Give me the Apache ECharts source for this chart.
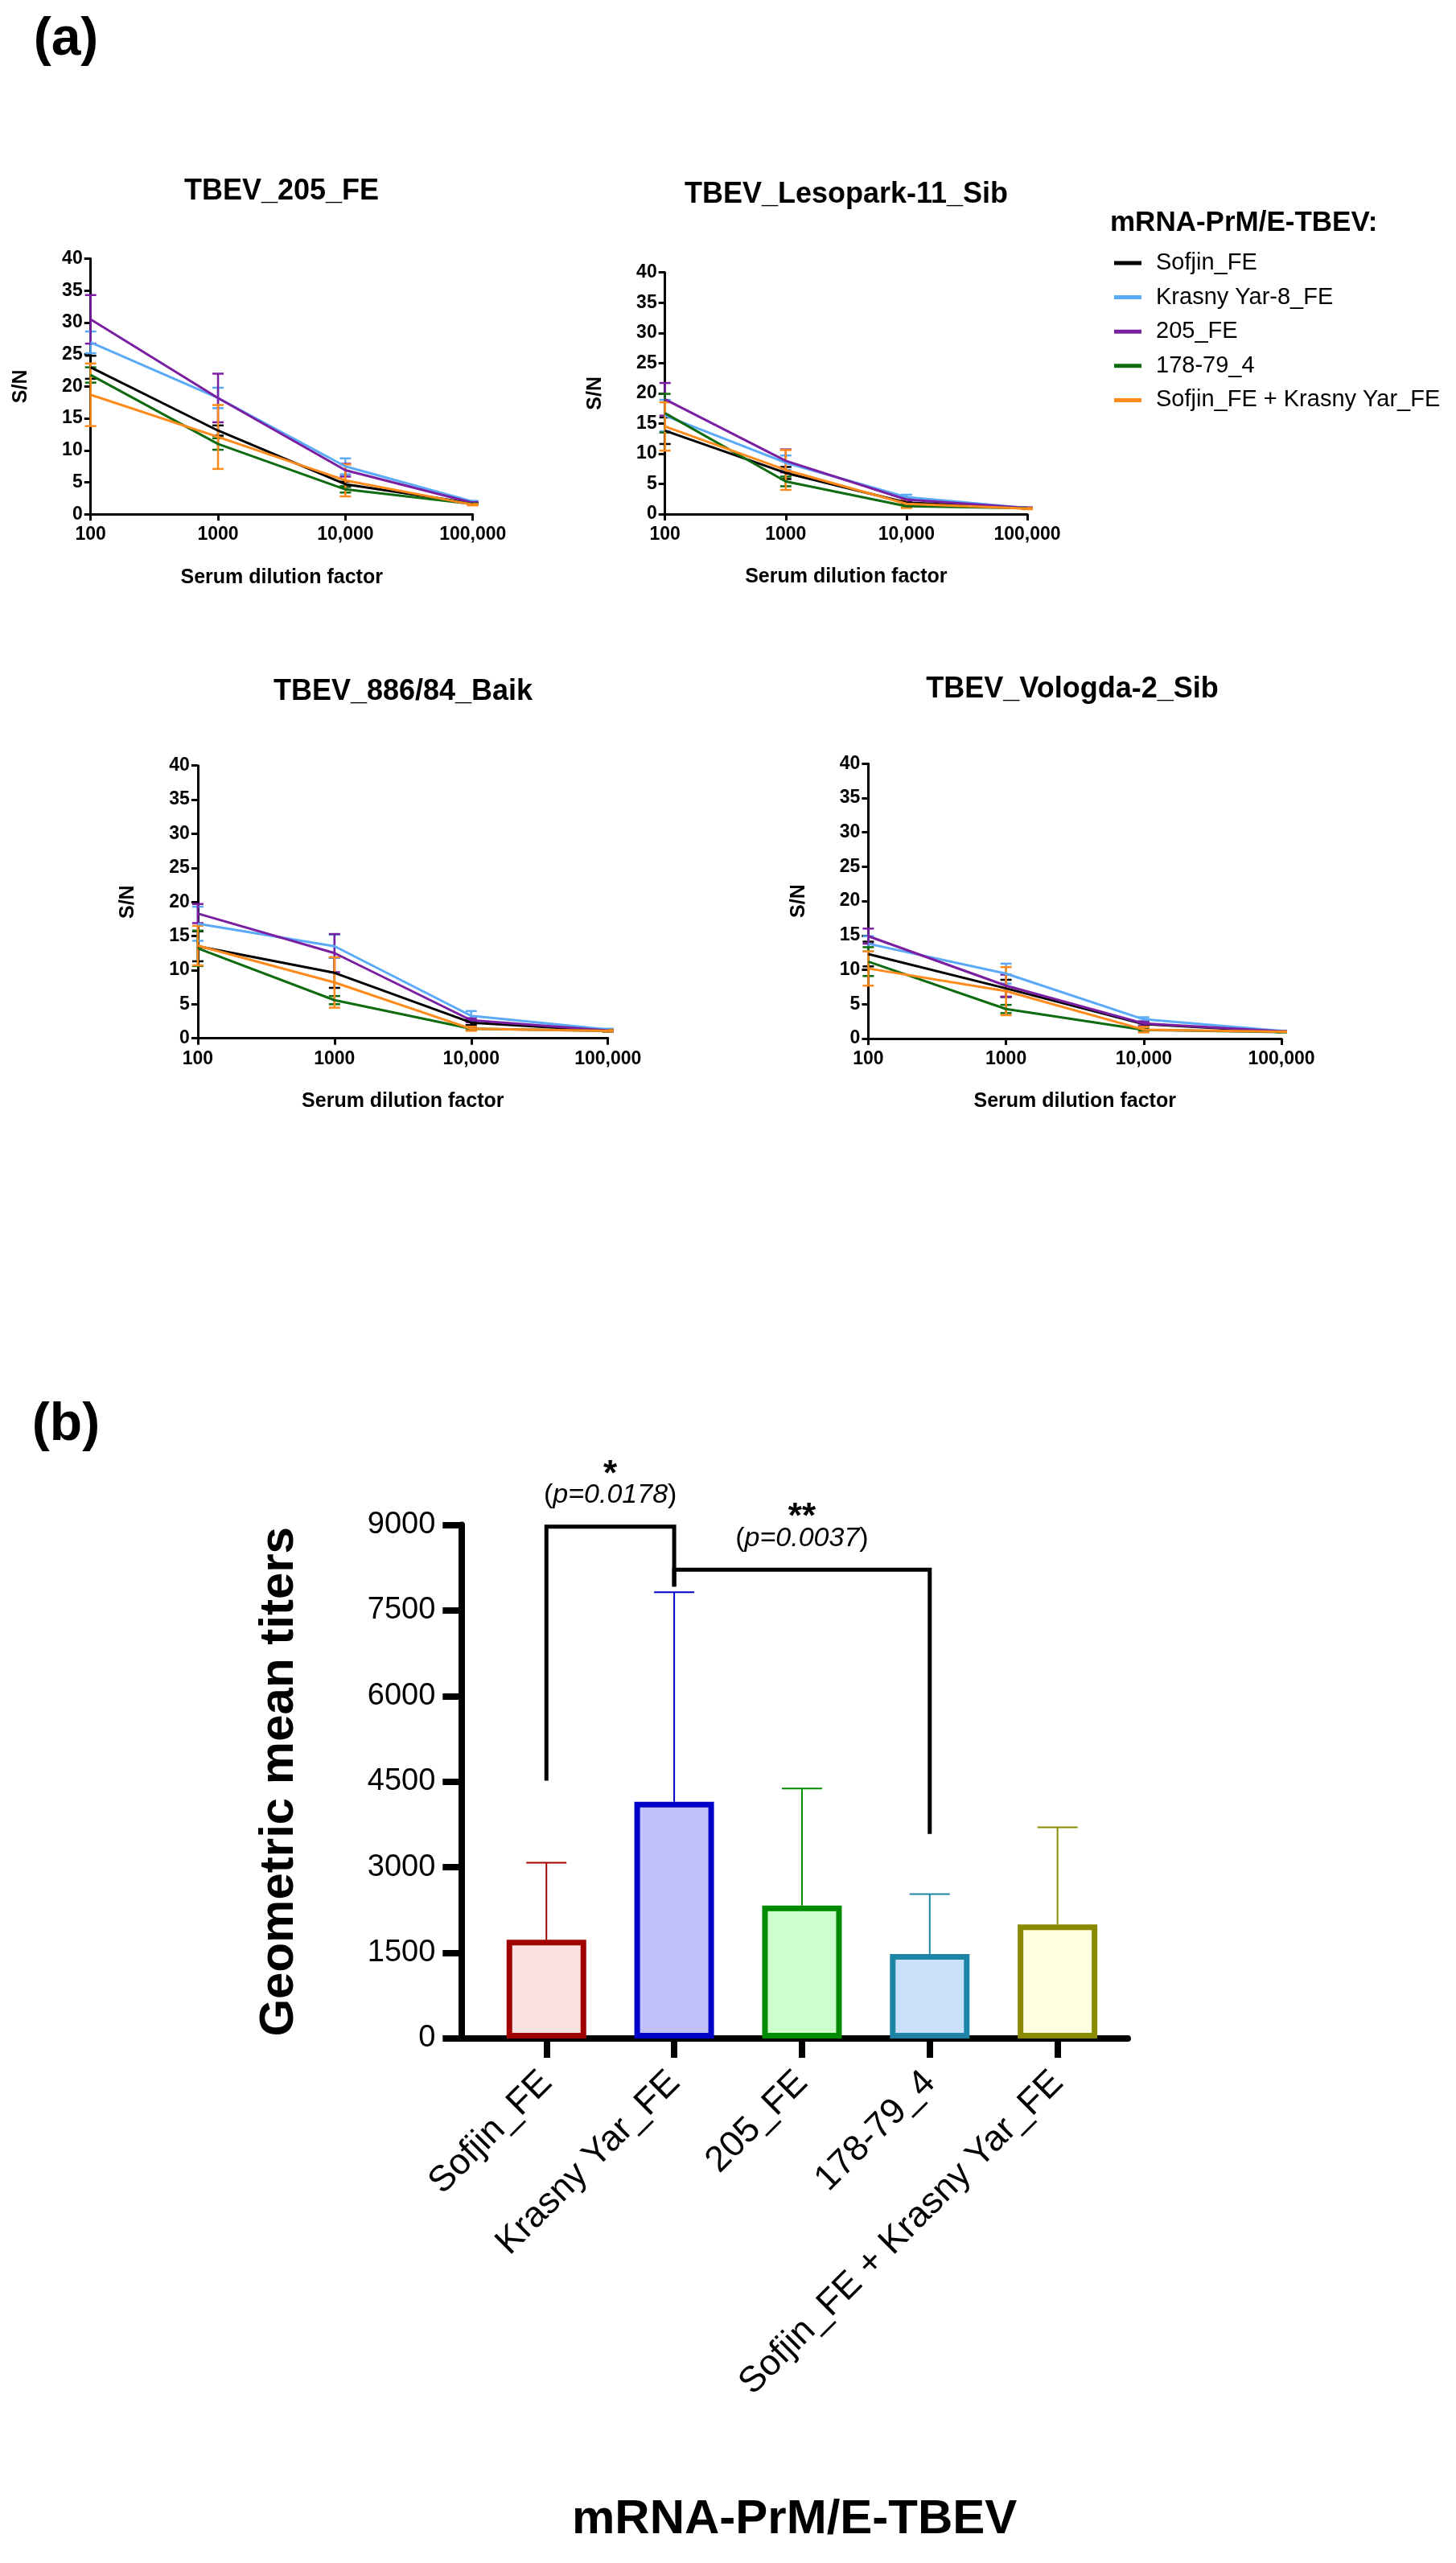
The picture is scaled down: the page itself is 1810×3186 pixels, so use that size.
<!DOCTYPE html>
<html>
<head>
<meta charset="utf-8">
<script src="https://cdn.jsdelivr.net/npm/echarts@6/dist/echarts.min.js"></script>
<style>
html,body{margin:0;padding:0;background:#fff;}
#c{width:1810px;height:3186px;}
</style>
</head>
<body>
<div id="c"></div>
<script>
// ---------------- DATA ----------------
const dilution = [100, 1000, 10000, 100000];
const groupNames = ['Sofjin_FE', 'Krasny Yar-8_FE', '205_FE', '178-79_4', 'Sofjin_FE + Krasny Yar_FE'];
const panelTitles = ['TBEV_205_FE', 'TBEV_Lesopark-11_Sib', 'TBEV_886/84_Baik', 'TBEV_Vologda-2_Sib'];

// S/N means (rows follow groupNames) and SD (error bar half length)
const p205Mean = [[23.0, 13.1, 4.7, 1.7], [26.9, 18.2, 7.5, 2.0], [30.5, 18.2, 6.9, 1.8], [21.8, 11.0, 3.9, 1.6], [18.7, 12.1, 5.3, 1.5]];
const p205SD   = [[1.8, 0.8, 0.4, 0.1], [1.7, 1.6, 1.25, 0.1], [3.8, 3.8, 1.0, 0.1], [1.2, 0.9, 0.5, 0.1], [4.9, 5.0, 2.5, 0.1]];
const pLesMean = [[13.8, 6.8, 1.9, 1.0], [16.3, 8.5, 2.8, 1.0], [19.0, 8.8, 2.4, 1.0], [16.7, 5.4, 1.3, 0.95], [14.5, 7.3, 1.7, 0.9]];
const pLesSD   = [[2.2, 1.0, 0.3, 0.05], [2.6, 1.2, 0.4, 0.05], [2.7, 1.9, 0.3, 0.1], [3.2, 0.8, 0.2, 0.05], [4.0, 3.3, 0.7, 0.1]];
const pBaiMean = [[13.5, 9.6, 2.3, 1.1], [16.8, 13.5, 3.3, 1.3], [18.3, 12.5, 2.65, 1.15], [13.2, 5.6, 1.4, 1.1], [13.6, 8.2, 1.4, 1.1]];
const pBaiSD   = [[2.2, 2.2, 0.35, 0.1], [2.5, 1.7, 0.7, 0.1], [1.4, 2.8, 0.3, 0.1], [2.6, 0.6, 0.2, 0.1], [2.9, 3.7, 0.3, 0.1]];
const pVolMean = [[12.3, 7.3, 2.1, 1.0], [13.8, 9.45, 2.8, 1.1], [14.9, 7.7, 2.2, 1.05], [11.2, 4.3, 1.25, 0.95], [10.2, 6.9, 1.3, 1.0]];
const pVolSD   = [[1.8, 1.25, 0.3, 0.05], [1.1, 1.45, 0.3, 0.05], [1.1, 1.6, 0.3, 0.05], [2.1, 0.6, 0.2, 0.05], [2.5, 3.5, 0.4, 0.05]];

// Bar chart (b)
const barCats = ['Sofjin_FE', 'Krasny Yar_FE', '205_FE', '178-79_4', 'Sofjin_FE + Krasny Yar_FE'];
const barGMT  = [1730, 4150, 2330, 1480, 2000];
const barSD   = [1350, 3670, 2050, 1050, 1700];
const yTicksB = [0, 1500, 3000, 4500, 6000, 7500, 9000];

// Significance brackets (category index from/to, bracket top, leg ends)
const sigFrom   = [0, 1];
const sigTo     = [1, 3];
const sigTop    = [8970, 8215];
const sigLeftEnd  = [4520, 7920];
const sigRightEnd = [7920, 3585];
const sigStars  = ['*', '**'];
const sigP      = ['0.0178', '0.0037'];

// ---------------- STYLE ----------------
const FONT = 'Arial, "Liberation Sans", Helvetica, sans-serif';
const groupColors = ['#000000', '#5aaaf8', '#7b1fa2', '#0f6b0f', '#ff8a1c'];
const barBorder = ['#a00000', '#0000c8', '#008a00', '#1d84a6', '#8a8a00'];
const barFill   = ['#fde0e2', '#c0c0fa', '#ccffcc', '#c8e0fa', '#fffee0'];

const panelMeans = [p205Mean, pLesMean, pBaiMean, pVolMean];
const panelSDs = [p205SD, pLesSD, pBaiSD, pVolSD];

const grids = [
  {left: 112.7, top: 321.5, width: 475, height: 317.8},
  {left: 826.7, top: 338.7, width: 450.3, height: 300.3},
  {left: 245.9, top: 951.7, width: 509.8, height: 339},
  {left: 1079.4, top: 949.3, width: 513.6, height: 341.7},
  {left: 573.3, top: 1895.6, width: 828.7, height: 638.4}
];
const titlePos = [[350, 238], [1052, 242], [501, 860], [1333, 857]];

const fmtDil = v => (v >= 10000 ? Number(v).toLocaleString('en-US') : String(v));

const xAxes = [], yAxes = [], series = [];
for (let p = 0; p < 4; p++) {
  xAxes.push({
    type: 'log', logBase: 10, gridIndex: p, min: 100, max: 100000,
    axisLine: {onZero: false, lineStyle: {color: '#000', width: 3}},
    axisTick: {length: 8, lineStyle: {color: '#000', width: 3}},
    axisLabel: {formatter: fmtDil, fontSize: 23, fontWeight: 'bold', color: '#000', margin: 14, fontFamily: FONT},
    splitLine: {show: false}, minorTick: {show: false},
    name: 'Serum dilution factor', nameLocation: 'middle', nameGap: 66,
    nameTextStyle: {fontSize: 25, fontWeight: 'bold', color: '#000', fontFamily: FONT}
  });
  yAxes.push({
    type: 'value', gridIndex: p, min: 0, max: 40, interval: 5,
    axisLine: {show: true, onZero: false, lineStyle: {color: '#000', width: 3}},
    axisTick: {show: true, length: 8, lineStyle: {color: '#000', width: 3}},
    axisLabel: {fontSize: 23, fontWeight: 'bold', color: '#000', margin: 10, fontFamily: FONT},
    splitLine: {show: false},
    name: 'S/N', nameLocation: 'middle', nameGap: 74,
    nameTextStyle: {fontSize: 25, fontWeight: 'bold', color: '#000', fontFamily: FONT}
  });
  for (let g = 0; g < groupNames.length; g++) {
    const col = groupColors[g];
    const means = panelMeans[p][g], sds = panelSDs[p][g];
    series.push({
      type: 'custom', name: groupNames[g], xAxisIndex: p, yAxisIndex: p, z: 3, silent: true,
      data: dilution.map((d, i) => [d, means[i], sds[i]]),
      itemStyle: {color: col},
      renderItem: function (params, api) {
        const x = api.value(0), m = api.value(1), s = api.value(2);
        const t = api.coord([x, m + s]), b = api.coord([x, Math.max(0, m - s)]);
        const st = {stroke: col, lineWidth: 2.5};
        return {type: 'group', children: [
          {type: 'line', shape: {x1: t[0], y1: t[1], x2: b[0], y2: b[1]}, style: st},
          {type: 'line', shape: {x1: t[0] - 7, y1: t[1], x2: t[0] + 7, y2: t[1]}, style: st},
          {type: 'line', shape: {x1: b[0] - 7, y1: b[1], x2: b[0] + 7, y2: b[1]}, style: st}
        ]};
      }
    });
    series.push({
      type: 'line', name: groupNames[g], xAxisIndex: p, yAxisIndex: p, z: 4, silent: true,
      data: dilution.map((d, i) => [d, means[i]]),
      symbol: 'none', showSymbol: false,
      lineStyle: {color: col, width: 3}, itemStyle: {color: col}
    });
  }
}

// Bar chart axes
xAxes.push({
  type: 'value', gridIndex: 4, min: -0.667, max: 4.55,
  axisLine: {onZero: false, lineStyle: {color: '#000', width: 8}},
  axisTick: {customValues: [0, 1, 2, 3, 4], length: 24, lineStyle: {color: '#000', width: 8}},
  axisLabel: {customValues: [0, 1, 2, 3, 4], formatter: v => barCats[Math.round(v)], rotate: 45,
    fontSize: 45, color: '#000', margin: 48, fontFamily: FONT},
  splitLine: {show: false},
  name: 'mRNA-PrM/E-TBEV', nameLocation: 'middle', nameGap: 568,
  nameTextStyle: {fontSize: 60, fontWeight: 'bold', color: '#000', fontFamily: FONT}
});
yAxes.push({
  type: 'value', gridIndex: 4, min: yTicksB[0], max: yTicksB[yTicksB.length - 1], interval: yTicksB[1] - yTicksB[0],
  axisLine: {show: true, onZero: false, lineStyle: {color: '#000', width: 8}},
  axisTick: {show: true, length: 23, lineStyle: {color: '#000', width: 8}},
  axisLabel: {fontSize: 38, color: '#000', margin: 32, fontFamily: FONT, formatter: v => String(v)},
  splitLine: {show: false},
  name: 'Geometric mean titers', nameLocation: 'middle', nameGap: 196,
  nameTextStyle: {fontSize: 60, fontWeight: 'bold', color: '#000', fontFamily: FONT}
});

series.push({
  type: 'custom', xAxisIndex: 4, yAxisIndex: 4, z: 1, silent: true,
  data: barGMT.map((v, i) => [i, v, barSD[i]]),
  renderItem: function (params, api) {
    const i = params.dataIndex;
    const x = api.value(0), m = api.value(1), s = api.value(2);
    const t = api.coord([x, m + s]), b = api.coord([x, m]);
    const st = {stroke: barBorder[i], lineWidth: 2};
    return {type: 'group', children: [
      {type: 'line', shape: {x1: t[0], y1: t[1], x2: b[0], y2: b[1]}, style: st},
      {type: 'line', shape: {x1: t[0] - 25, y1: t[1], x2: t[0] + 25, y2: t[1]}, style: st}
    ]};
  }
});
series.push({
  type: 'bar', xAxisIndex: 4, yAxisIndex: 4, z: 2, silent: true, barWidth: 99,
  data: barGMT.map((v, i) => ({value: [i, v], itemStyle: {color: barFill[i], borderColor: barBorder[i], borderWidth: 7}}))
});
series.push({
  type: 'custom', xAxisIndex: 4, yAxisIndex: 4, z: 5, silent: true, clip: false,
  data: sigFrom.map((f, i) => [f, sigTo[i], sigTop[i], sigLeftEnd[i], sigRightEnd[i]]),
  renderItem: function (params, api) {
    const i = params.dataIndex;
    const f = api.value(0), t = api.value(1), top = api.value(2), le = api.value(3), re = api.value(4);
    const a = api.coord([f, le]), b = api.coord([f, top]), c = api.coord([t, top]), d = api.coord([t, re]);
    const mx = (b[0] + c[0]) / 2;
    return {type: 'group', children: [
      {type: 'polyline', shape: {points: [a, b, c, d]}, style: {stroke: '#000', lineWidth: 5, fill: null}},
      {type: 'text', x: mx, y: b[1] - 64, style: {text: sigStars[i], fill: '#000', fontSize: 44, fontWeight: 'bold',
        fontFamily: FONT, align: 'center', verticalAlign: 'middle', textAlign: 'center', textVerticalAlign: 'middle'}},
      {type: 'text', x: mx, y: b[1] - 39, style: {
        text: '{n|(}{i|p=' + sigP[i] + '}{n|)}', fill: '#000',
        align: 'center', verticalAlign: 'middle', textAlign: 'center', textVerticalAlign: 'middle',
        rich: {n: {fontSize: 34, fontFamily: FONT, fill: '#000'}, i: {fontSize: 34, fontStyle: 'italic', fontFamily: FONT, fill: '#000'}}
      }}
    ]};
  }
});

const graphics = [];
for (let p = 0; p < 4; p++) {
  graphics.push({type: 'text', x: titlePos[p][0], y: titlePos[p][1], silent: true,
    style: {text: panelTitles[p], fill: '#000', font: 'bold 36px ' + FONT,
      align: 'center', verticalAlign: 'middle', textAlign: 'center', textVerticalAlign: 'middle'}});
}
graphics.push({type: 'text', x: 1380, y: 277, silent: true,
  style: {text: 'mRNA-PrM/E-TBEV:', fill: '#000', font: 'bold 35px ' + FONT,
    align: 'left', verticalAlign: 'middle', textAlign: 'left', textVerticalAlign: 'middle'}});
graphics.push({type: 'text', x: 82, y: 50, silent: true,
  style: {text: '(a)', fill: '#000', font: 'bold 66px ' + FONT,
    align: 'center', verticalAlign: 'middle', textAlign: 'center', textVerticalAlign: 'middle'}});
graphics.push({type: 'text', x: 82, y: 1772, silent: true,
  style: {text: '(b)', fill: '#000', font: 'bold 66px ' + FONT,
    align: 'center', verticalAlign: 'middle', textAlign: 'center', textVerticalAlign: 'middle'}});

const option = {
  backgroundColor: '#ffffff',
  animation: false,
  textStyle: {fontFamily: FONT},
  grid: grids.map(g => Object.assign({containLabel: false}, g)),
  xAxis: xAxes,
  yAxis: yAxes,
  legend: {
    data: groupNames, orient: 'vertical', left: 1385, top: 312, padding: 0,
    icon: 'rect', itemWidth: 34, itemHeight: 5, itemGap: 12.6, selectedMode: false,
    textStyle: {fontSize: 29, color: '#000', fontFamily: FONT, lineHeight: 30, padding: [0, 0, 0, 13]}
  },
  graphic: graphics,
  series: series
};

const chart = echarts.init(document.getElementById('c'), null, {renderer: 'canvas'});
chart.setOption(option);
</script>
</body>
</html>
